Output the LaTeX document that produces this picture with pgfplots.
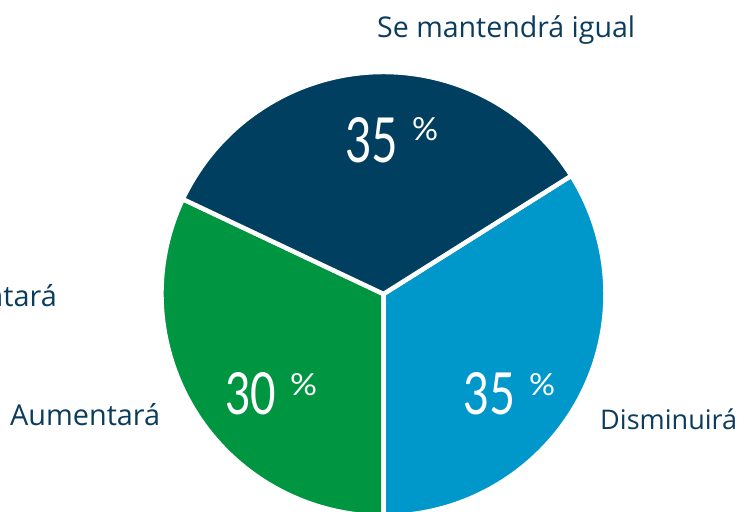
\documentclass[border=0pt]{standalone}
\usepackage{pgfplots}
\pgfplotsset{compat=1.18}
\usepackage{fontspec}
\setmainfont{Open Sans}
\newfontfamily\numfont{Lato}
\usepackage{graphicx}
\definecolor{cdark}{HTML}{003F5F}
\definecolor{cblue}{HTML}{0097CB}
\definecolor{cgreen}{HTML}{009540}
\definecolor{ctext}{HTML}{0B3C5D}
\begin{document}
\begin{tikzpicture}
\useasboundingbox (0,0) rectangle (745bp,512bp);
\begin{axis}[at={(0,0)}, anchor=south west, scale only axis,
  width=745bp, height=512bp, xmin=0, xmax=745, ymin=0, ymax=512,
  y dir=reverse, hide axis, clip=false]
% slices: value (label), start angle, end angle
% Aumentara 30, Disminuira 35, Se mantendra igual 35
\fill[cgreen, draw=white, line width=4.5bp] (axis cs:383.5,294) -- ++(154.7:222bp) arc[start angle=154.7, end angle=270, radius=222bp] -- cycle;
\fill[cblue, draw=white, line width=4.5bp] (axis cs:383.5,294) -- ++(-90:222bp) arc[start angle=-90, end angle=32.2, radius=222bp] -- cycle;
\fill[cdark, draw=white, line width=4.5bp] (axis cs:383.5,294) -- ++(32.2:222bp) arc[start angle=32.2, end angle=154.7, radius=222bp] -- cycle;
% value labels
\node[anchor=south west, inner sep=0, text=white] at (axis cs:345,163) {\resizebox{53bp}{45bp}{\numfont 35}};
\node[anchor=north west, inner sep=0, text=white] at (axis cs:412,117) {\resizebox{26bp}{23bp}{\numfont\%}};
\node[anchor=south west, inner sep=0, text=white] at (axis cs:463,415) {\resizebox{52bp}{42bp}{\numfont 35}};
\node[anchor=north west, inner sep=0, text=white] at (axis cs:529,373) {\resizebox{26bp}{22bp}{\numfont\%}};
\node[anchor=south west, inner sep=0, text=white] at (axis cs:225,415) {\resizebox{51bp}{42bp}{\numfont 30}};
\node[anchor=north west, inner sep=0, text=white] at (axis cs:290,373) {\resizebox{27bp}{22bp}{\numfont\%}};
% category labels
\node[anchor=base west, inner sep=0, text=ctext] at (axis cs:377,37.5) {\resizebox{258bp}{!}{Se mantendrá igual}};
\node[anchor=base west, inner sep=0, text=ctext] at (axis cs:10,425) {\resizebox{150bp}{!}{Aumentará}};
\node[anchor=base east, inner sep=0, text=ctext] at (axis cs:57,306) {\resizebox{150bp}{!}{Aumentará}};
\node[anchor=base west, inner sep=0, text=ctext] at (axis cs:600,429) {\resizebox{137bp}{!}{Disminuirá}};
\end{axis}
\end{tikzpicture}
\end{document}
